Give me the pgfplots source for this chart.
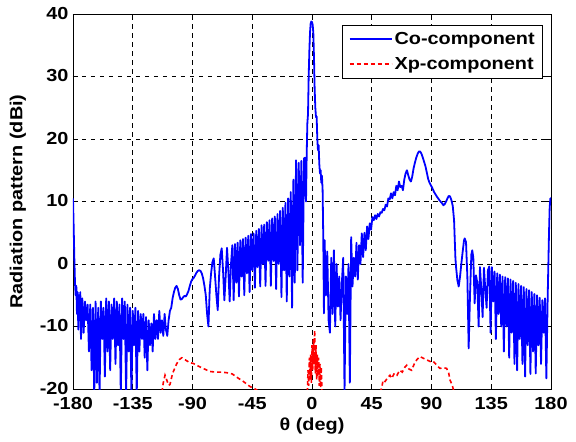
\documentclass[border=0pt]{standalone}
\usepackage{fontspec}
\setmainfont{Liberation Sans}[FakeStretch=1.14]
\usepackage{pgfplots}
\pgfplotsset{compat=1.18}
\definecolor{mblue}{RGB}{0,0,255}
\definecolor{mred}{RGB}{255,0,0}
\begin{document}
\begin{tikzpicture}
\useasboundingbox (-73bp,-53bp) rectangle (503bp,389bp);
\begin{axis}[
  scale only axis,
  width=478bp, height=375bp,
  xmin=-180, xmax=180, ymin=-20, ymax=40,
  xtick={-180,-135,-90,-45,0,45,90,135,180},
  ytick={-20,-10,0,10,20,30,40},
  /pgf/number format/assume math mode=true,
  ticklabel style={font=\fontsize{17.5}{19}\selectfont\bfseries},
  xticklabel style={yshift=-4.5bp},
  yticklabel style={xshift=-1bp, yshift=1bp},
  tick align=inside,
  major tick length=5bp,
  tick style={black, line width=0.6bp},
  axis line style={black, line width=0.6bp},
  grid=major,
  grid style={black, line width=0.6bp, dash pattern=on 4.5bp off 4.5bp},
  xlabel={θ (deg)},
  ylabel={Radiation pattern (dBi)},
  label style={font=\fontsize{17.5}{19}\selectfont\bfseries},
  xlabel style={at={(axis description cs:0.5,0)}, anchor=center, yshift=-37bp},
  ylabel style={at={(axis description cs:-0.1151,0.5)}, anchor=center},
  unbounded coords=jump,
  legend style={at={(rel axis cs:0.9835,0.972)}, anchor=north east, draw=black, line width=0.8bp, fill=white,
     font=\fontsize{17.5}{19}\selectfont\bfseries, inner xsep=6bp, inner ysep=5bp,
     /tikz/every even column/.append style={column sep=4bp}},
  legend cell align=left,
  legend image code/.code={\draw[#1] (0bp,0bp) -- (42bp,0bp);},
  legend style={row sep=8bp},
]
\addplot[mblue, line width=1.8bp, line join=round] coordinates {
(-180,10.5) (-179.5,6) (-179,1) (-178.5,-3) (-178,-5) (-177.5,-3.5) (-177,-8) (-176.5,-4.5) (-176,-10.5) (-175.5,-5) (-175,-9) (-174.5,-4.5) (-174,-12) (-173,-5.5) (-172,-11) (-171,-6) (-170,-9) (-169,-6.5) (-168,-14) (-167,-6.5) (-166,-17) (-165,-7) (-164,-21) (-163,-6) (-162,-19) (-161,-7) (-160,-21) (-159,-6) (-158,-12) (-157,-7) (-156,-18) (-155,-5.5) (-154,-14) (-153,-6) (-152,-17) (-151,-6.5) (-150,-12) (-149,-5.5) (-148,-16) (-147,-6) (-146,-13) (-145,-6.5) (-144,-21) (-143,-5.5) (-142,-12) (-141,-6) (-140,-21) (-139,-6.5) (-138,-14) (-137,-7) (-136,-21) (-135,-7.5) (-134,-13) (-133,-7) (-132,-21) (-131,-7.5) (-130,-14) (-129,-8) (-128,-12) (-127,-8) (-126,-15) (-125,-8.5) (-124,-17) (-123,-9) (-122,-13) (-121,-9.5) (-120,-14) (-119,-8) (-118,-12) (-117,-9) (-116,-12) (-115,-7.5) (-114,-11) (-113,-9) (-112,-11.5) (-111,-8) (-110,-10.5) (-109,-11.5) (-108,-9) (-107,-7.5) (-106,-7) (-105,-5.5) (-104,-4.5) (-103,-3.8) (-102,-3.5) (-101,-4) (-100,-5) (-99,-5.7) (-98,-5.6) (-97,-5.3) (-96,-5.1) (-95,-5.2) (-94,-4.8) (-93,-4.3) (-92,-3.5) (-91,-2.8) (-90,-2.4) (-89,-2.2) (-88,-1.8) (-87,-1.4) (-86,-1.1) (-85,-1.0) (-84,-1.1) (-83,-1.5) (-82,-2.3) (-81,-3.5) (-80,-5) (-79,-8) (-78,-10) (-77,-4) (-76,-1.5) (-75,0.3) (-74,0.9) (-73,-2) (-72,-5) (-71,-7.4) (-70,-2) (-69,1.5) (-68,2.5) (-67,-1) (-66,-5.8) (-65,-2) (-64,2.6) (-63,-1) (-62,-6) (-61,0)
(-60,3.0) (-59,-5.8) (-58,3.2) (-57,-3) (-56,3.4) (-55,-5.2) (-54,3.8) (-53,-2) (-52,4.0) (-51,-5) (-50,4.2) (-49,-1.5) (-48,4.5) (-47,-4.5) (-46,4.8) (-45,-1) (-44,4.9) (-43,-3.8) (-42,5.3) (-41,-0.5) (-40,5.6) (-39,-3.6) (-38,6.2) (-37,0) (-36,6.3) (-35,-3.5) (-34,6.7) (-33,0.5) (-32,7.0) (-31,-3.5) (-30,7.3) (-29,0.5) (-28,7.6) (-27,-4) (-26,8.0) (-25,0) (-24,8.5) (-23,-5.3) (-22,9.0) (-21,-1) (-20,9.8) (-19,-6) (-18,10.5) (-17,-2) (-16,11.5) (-15,-7) (-14,13.5) (-13,-3) (-12,16.6) (-11,-1) (-10,16.2) (-9,3) (-8,16.5) (-7,-3) (-6,16.9) (-5.3,17) (-4.5,10)
(-4,17.5) (-3.5,22.5) (-3,24) (-2.5,30) (-2,34) (-1.5,37) (-1,38.5) (-0.5,38.8) (0,38.7) (0.5,38.3) (1,37) (1.5,33) (2,28) (2.5,25) (3,23.5) (3.5,23.6) (4,20) (4.5,18.2) (5,19) (5.5,16) (6,14.5) (6.5,15) (7,13) (7.5,14.1) (8,11.8)
(8.5,4) (9,-7.9) (9.5,3.8) (10.5,-5) (11.5,2) (12.5,-9) (13.5,-11) (14.5,1) (15.5,-8) (16.5,2.2) (17.5,-10) (18.5,0) (19.5,-6.8) (20.5,-2) (21.5,-9) (22.5,-3) (23.5,1) (24.5,-20.5) (25.5,-2) (26.5,-8) (27.5,0) (28.5,-19) (29.5,4.3) (30.5,-3.6) (31.5,1) (32.5,-2) (33.5,3.4) (34.5,-2.5) (35.5,3) (36.5,0) (37.5,4.9) (38.5,1.1) (39.5,5) (40.5,2.2) (41.5,6) (42.5,4) (43.5,6.5) (44.5,5.5) (45.5,7.5) (46.5,7) (47.5,7.8) (48.5,7.2) (49.5,8) (50.5,7.6) (51.5,8.3) (52.5,8.2) (53.5,8.8) (54.5,8.6) (55.5,9.5) (56.5,9.2) (57.5,10.5) (58.5,10.3) (59.5,11.3) (60.5,10.5) (61.5,11.5) (62.5,11) (63.5,12.5) (64.5,11.8) (65.5,13.2) (66.5,12.3) (67.5,12.5) (68.5,11.8) (69.5,13.5) (70.5,14.5) (71.5,15) (72.5,14.2) (73.5,13.5) (74.5,13.2) (75.5,14) (76.5,15.3) (77.5,16.2) (78.5,17) (79.5,17.6) (80.5,18) (81.5,18) (82.5,17.6) (83.5,17) (84.5,16.3) (85.5,15.6) (86.5,14.6) (87.5,13.6) (88.5,13) (89.5,12.6) (90.5,12.2) (92,11.5) (94,10.8) (96,10.2) (98,9.7) (99,9.4) (100,9.6) (101,10) (102,10.5) (103,10.9) (104,10.8) (105,10.2) (106,9.3) (107,7) (107.5,4) (108,1) (108.5,-0.5) (109.5,-2.6) (110.5,-3.6) (111.5,-2) (112.5,0.1) (113.5,2) (114.5,3.8) (115,4.1) (116,3.5) (117,-2) (118,-13.5) (119,-5) (120,1.5) (120.7,2.2) (121.5,1) (122.5,-6.3) (123.5,-1.8) (124.5,-3) (125.5,-10) (126.5,-0.5) (127.5,-4) (128.5,-8.5) (129.5,-0.6) (130.5,-4) (131.5,-7) (132.5,-1) (133.5,-0.4) (134.5,-11) (135.5,-0.5) (136.5,-6) (137.5,-1.2) (138.5,-12) (139.5,-1.5) (140.5,-8) (141.5,-1.7) (142.5,-10) (143.5,-2) (144.5,-14) (145.5,-2.1) (146.5,-10) (147.5,-2.3) (148.5,-15) (149.5,-2.5) (150.5,-11) (151.5,-2.7) (152.5,-16) (153.5,-3) (154.5,-17) (155.5,-3.2) (156.5,-12) (157.5,-3.5) (158.5,-16) (159.5,-3.7) (160.5,-18) (161.5,-4) (162.5,-13) (163.5,-4.2) (164.5,-17.6) (165.5,-4.5) (166.5,-14) (167.5,-4.8) (168.5,-17.5) (169.5,-5) (170.5,-13) (171.5,-5.4) (172.5,-16) (173.5,-5.8) (174.5,-11) (175.5,-5.5) (176.5,-18.3) (177.5,-5.3) (178.5,5) (179,9) (179.5,10.5) (180,10.5)
};
\addlegendentry{Co-component}
\addplot[mred, line width=1.6bp, dash pattern=on 4bp off 3bp] coordinates {
(-113,-20.5) (-112,-19) (-110.7,-17.8) (-109.5,-18.5) (-108,-19.4) (-107,-19.3) (-105,-17.5) (-102,-16) (-100,-15.3) (-98,-15) (-95,-15.4) (-92,-15.8) (-89.5,-15.9) (-86,-16.3) (-82,-16.7) (-77,-17.2) (-72,-17.3) (-68,-17.3) (-64,-17.4) (-60,-17.6) (-56.7,-18.1) (-51.7,-18.8) (-46.7,-19.6) (-42,-20.1) (-40,-20.5)
(-20,nan)
(-3.5,-20.5) (-3,-17) (-2.5,-19.5) (-2,-15) (-1.5,-18.5) (-1,-14.5) (-0.5,-19) (0,-13) (0.5,-17) (1,-12) (1.5,-16) (2,-10.6) (2.5,-17.5) (3,-13) (3.5,-18.5) (4,-14.5) (4.5,-18) (5,-15) (5.5,-19.5) (6,-16) (6.5,-19.8) (7,-16.5) (7.5,-20.5)
(30,nan)
(51,-20.5) (52.5,-19.9) (53.5,-18.6) (55,-18.8) (57,-18.2) (58.7,-17.8) (60,-18.3) (62,-17.5) (64,-17.8) (66,-17) (68,-17.3) (70,-16.5) (71.3,-16.2) (73,-16.8) (75,-17) (77,-16) (79,-15.3) (81.3,-14.8) (84,-15.1) (87,-15.4) (89,-15.6) (91,-15.5) (94,-16.2) (96.4,-16.7) (99,-16.6) (101.4,-16.7) (103,-17.5) (104,-18.6) (105.5,-19.3) (107,-20.5)
};
\addlegendentry{Xp-component}
\end{axis}
\end{tikzpicture}
\end{document}
